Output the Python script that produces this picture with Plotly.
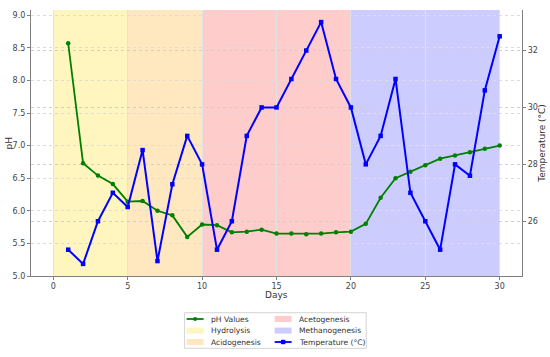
import plotly.graph_objects as go

# ---------------- data ----------------
days = list(range(1, 31))
ph_values = [8.57, 6.73, 6.54, 6.41, 6.14, 6.15, 6.00, 5.93, 5.60, 5.79,
             5.78, 5.67, 5.68, 5.71, 5.65, 5.65, 5.64, 5.65, 5.67, 5.68,
             5.80, 6.20, 6.50, 6.60, 6.70, 6.80, 6.85, 6.90, 6.95, 7.00]
temperature = [25.0, 24.5, 26.0, 27.0, 26.5, 28.5, 24.6, 27.3, 29.0, 28.0,
               25.0, 26.0, 29.0, 30.0, 30.0, 31.0, 32.0, 33.0, 31.0, 30.0,
               28.0, 29.0, 31.0, 27.0, 26.0, 25.0, 28.0, 27.6, 30.6, 32.5]
phase_names = ["Hydrolysis", "Acidogenesis", "Acetogenesis", "Methanogenesis"]
phase_start = [0, 5, 10, 20]
phase_end = [5, 10, 20, 30]
phase_colors = ["rgba(255,215,0,0.25)", "rgba(255,165,0,0.25)",
                "rgba(255,0,0,0.2)", "rgba(0,0,255,0.2)"]
x_ticks = [0, 5, 10, 15, 20, 25, 30]
ph_ticks = [5.0, 5.5, 6.0, 6.5, 7.0, 7.5, 8.0, 8.5, 9.0]
temp_ticks = [26, 28, 30, 32]

PH_COLOR = "#008000"
T_COLOR = "#0000ff"
FONT = "DejaVu Sans"

W, H = 550, 357
L, R, T, B = 31, 521.7, 10, 276          # plot area in pixels
ML, MR, MT, MB = L, W - R, T, H - B


def px(x):
    return (x - L) / (R - L)


def py(y):
    return (B - y) / (B - T)


fig = go.Figure()
fig.add_trace(go.Scatter(x=days, y=ph_values, name="pH Values", mode="lines+markers",
                         line=dict(color=PH_COLOR, width=1.8),
                         marker=dict(symbol="circle", size=4.5, color=PH_COLOR),
                         showlegend=False))
fig.add_trace(go.Scatter(x=days, y=temperature, name="Temperature (°C)", mode="lines+markers",
                         line=dict(color=T_COLOR, width=2),
                         marker=dict(symbol="square", size=4.5, color=T_COLOR),
                         yaxis="y2", showlegend=False))

shapes = []
for s, e, c in zip(phase_start, phase_end, phase_colors):
    shapes.append(dict(type="rect", xref="x", yref="paper", x0=s, x1=e, y0=0, y1=1,
                       fillcolor=c, line=dict(width=0), layer="below"))

# ---------- manual legend (matplotlib-like, 2 columns) ----------
shapes.append(dict(type="rect", xref="paper", yref="paper",
                   x0=px(184.5), x1=px(366), y0=py(312.7), y1=py(348.3),
                   fillcolor="rgba(255,255,255,0.8)", line=dict(color="#d4d4d4", width=1)))

entries = [("pH Values", "line", PH_COLOR, "circle"),
           (phase_names[0], "patch", phase_colors[0], None),
           (phase_names[1], "patch", phase_colors[1], None),
           (phase_names[2], "patch", phase_colors[2], None),
           (phase_names[3], "patch", phase_colors[3], None),
           ("Temperature (°C)", "line", T_COLOR, "square")]
col_x = [186.5, 274.5]
row_y = [319.0, 330.6, 342.0]
annotations = []
for i, (label, kind, color, sym) in enumerate(entries):
    cx = col_x[i // 3]
    ry = row_y[i % 3]
    if kind == "line":
        shapes.append(dict(type="line", xref="paper", yref="paper",
                           x0=px(cx), x1=px(cx + 17), y0=py(ry), y1=py(ry),
                           line=dict(color=color, width=1.8)))
        mx = cx + 8.5
        if sym == "circle":
            shapes.append(dict(type="circle", xref="paper", yref="paper",
                               x0=px(mx - 2), x1=px(mx + 2), y0=py(ry + 2), y1=py(ry - 2),
                               fillcolor=color, line=dict(width=0)))
        else:
            shapes.append(dict(type="rect", xref="paper", yref="paper",
                               x0=px(mx - 2.2), x1=px(mx + 2.2), y0=py(ry + 2.2), y1=py(ry - 2.2),
                               fillcolor=color, line=dict(width=0)))
    else:
        shapes.append(dict(type="rect", xref="paper", yref="paper",
                           x0=px(cx), x1=px(cx + 17), y0=py(ry + 3), y1=py(ry - 3),
                           fillcolor=color, line=dict(width=0)))
    annotations.append(dict(text=label, xref="paper", yref="paper", x=px(cx + 22.5), y=py(ry),
                            xanchor="left", yanchor="middle", showarrow=False,
                            font=dict(family=FONT, size=7.6, color="#333333")))

# axis titles placed like matplotlib
title_font = dict(family=FONT, size=9, color="#333333")
annotations.append(dict(text="Days", xref="paper", yref="paper", x=0.5, y=py(294.5),
                        xanchor="center", yanchor="middle", showarrow=False, font=title_font))
annotations.append(dict(text="pH", xref="paper", yref="paper", x=px(9.5), y=0.5, textangle=-90,
                        xanchor="center", yanchor="middle", showarrow=False, font=title_font))
annotations.append(dict(text="Temperature (°C)", xref="paper", yref="paper", x=px(541.5), y=0.5,
                        textangle=-90, xanchor="center", yanchor="middle", showarrow=False,
                        font=title_font))

axis_common = dict(showline=True, linecolor="#808080", linewidth=1.2,
                   ticks="outside", tickcolor="#808080", ticklen=3, tickwidth=1,
                   tickfont=dict(family=FONT, size=8, color="#444444"),
                   zeroline=False, automargin=False)

fig.update_layout(
    width=W, height=H,
    margin=dict(l=ML, r=MR, t=MT, b=MB, pad=0, autoexpand=False),
    paper_bgcolor="white", plot_bgcolor="white",
    showlegend=False,
    font=dict(family=FONT, color="#333333"),
    xaxis=dict(range=[-1.5, 31.5], tickvals=x_ticks, ticklabelstandoff=-1,
               showgrid=True, gridcolor="#e2e2e2", gridwidth=1,
               **axis_common),
    yaxis=dict(range=[5.0, 9.08], tickvals=ph_ticks, tickformat=".1f",
               showgrid=True, gridcolor="#dddddd", gridwidth=1, griddash="dot",
               **axis_common),
    yaxis2=dict(range=[24.075, 33.425], tickvals=temp_ticks, overlaying="y", side="right",
                showgrid=True, gridcolor="#cfcfcf", gridwidth=1, griddash="dot",
                **axis_common),
    shapes=shapes,
    annotations=annotations,
)

# remove the browser's default 8px page margin so the figure fills the window exactly
fig.write_html("out.html", config={"displayModeBar": False},
               post_script="document.body.style.margin='0px';document.body.style.overflow='hidden';")
